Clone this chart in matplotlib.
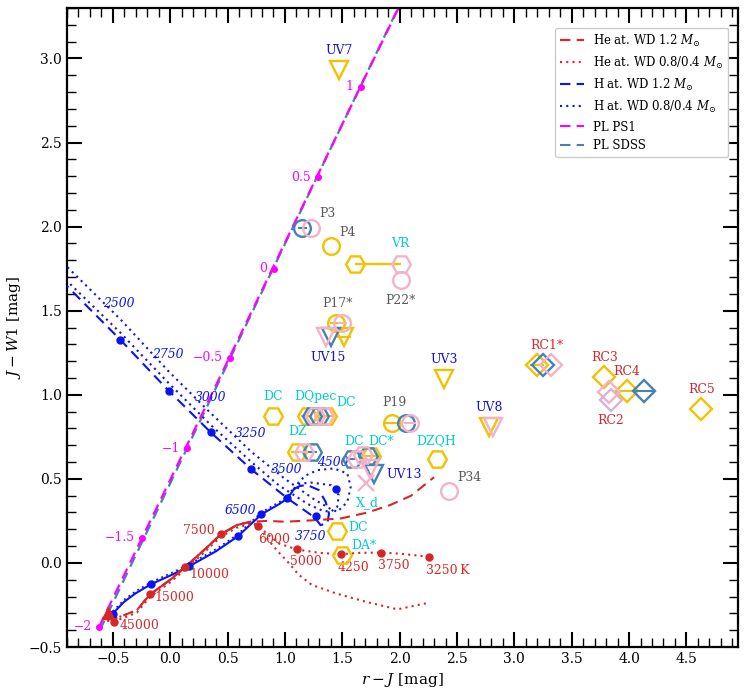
import matplotlib
matplotlib.use("Agg")
import matplotlib.pyplot as plt
from matplotlib.lines import Line2D
from matplotlib.ticker import MultipleLocator

plt.rcParams['font.family'] = ['DejaVu Serif']
plt.rcParams['mathtext.fontset'] = 'dejavuserif'

# ---------------- data ----------------
# power-law line PS1 (index, r-J, J-W1)
pl_index = [-2, -1.5, -1, -0.5, 0, 0.5, 1]
pl_x = [-0.62, -0.247, 0.145, 0.522, 0.905, 1.288, 1.66]
pl_y = [-0.379, 0.149, 0.681, 1.221, 1.750, 2.294, 2.833]
pl_line_x = [-0.62, 1.99]
pl_line_y = [-0.379, 3.30]
pl_sdss_x = [-0.60, 2.00]
pl_sdss_y = [-0.38, 3.32]

# H atmosphere tracks
h_hot_x = [-0.50, -0.40, -0.30, -0.169, 0.0, 0.165, 0.40, 0.589, 0.795, 0.95, 1.022, 1.08]
h_hot_y = [-0.30, -0.23, -0.18, -0.127, -0.075, -0.020, 0.07, 0.158, 0.289, 0.35, 0.384, 0.44]
h12_loop_x = [1.13, 1.195, 1.297, 1.355, 1.384, 1.37, 1.31, 1.26, 1.022, 0.708, 0.354, -0.015, -0.436, -0.92]
h12_loop_y = [0.458, 0.463, 0.433, 0.363, 0.294, 0.235, 0.225, 0.27, 0.384, 0.556, 0.776, 1.025, 1.328, 1.66]
h08_loop_x = [1.12, 1.225, 1.40, 1.47, 1.456, 1.40, 1.33, 1.2, 0.95, 0.708, 0.354, -0.015, -0.436, -0.92]
h08_loop_y = [0.47, 0.478, 0.463, 0.403, 0.334, 0.305, 0.31, 0.35, 0.46, 0.60, 0.82, 1.07, 1.37, 1.69]
h04_loop_x = [1.12, 1.18, 1.283, 1.427, 1.544, 1.573, 1.544, 1.457, 1.40, 1.25, 1.0, 0.708, 0.354, -0.015, -0.436, -0.92]
h04_loop_y = [0.48, 0.52, 0.552, 0.562, 0.532, 0.452, 0.363, 0.304, 0.32, 0.38, 0.50, 0.66, 0.89, 1.14, 1.45, 1.775]
h_dot_x = [-0.503, -0.169, 0.165, 0.589, 0.795, 1.022, 1.268, 1.449, 0.708, 0.354, -0.015, -0.436]
h_dot_y = [-0.304, -0.127, -0.020, 0.158, 0.289, 0.384, 0.278, 0.437, 0.556, 0.776, 1.025, 1.328]
h_lab_t = ['2500', '2750', '3000', '3250', '3500', '4500', '3750', '6500']
h_lab_x = [-0.448, -0.021, 0.354, 0.70, 1.016, 1.416, 1.225, 0.615]
h_lab_y = [1.544, 1.241, 0.985, 0.77, 0.558, 0.599, 0.16, 0.314]

# He atmosphere tracks
he_hot_x = [-0.55, -0.48, -0.40, -0.29, -0.23, -0.175, 0.0, 0.127, 0.30, 0.441, 0.58, 0.70]
he_hot_y = [-0.33, -0.33, -0.31, -0.28, -0.23, -0.187, -0.10, -0.026, 0.08, 0.17, 0.225, 0.245]
he12_x = [0.85, 1.0, 1.28, 1.49, 1.72, 1.92, 2.10, 2.30]
he12_y = [0.25, 0.245, 0.255, 0.265, 0.30, 0.345, 0.40, 0.51]
he08_x = [0.769, 0.85, 0.95, 1.107, 1.3, 1.49, 1.65, 1.834, 2.0, 2.256]
he08_y = [0.219, 0.17, 0.115, 0.08, 0.06, 0.052, 0.06, 0.062, 0.055, 0.037]
he04_x = [0.769, 0.85, 0.95, 1.024, 1.12, 1.233, 1.44, 1.7, 1.98, 2.23]
he04_y = [0.219, 0.14, 0.06, 0.007, -0.07, -0.13, -0.18, -0.23, -0.276, -0.24]
he_dot_x = [-0.49, -0.175, 0.127, 0.441, 0.769, 1.107, 1.49, 1.834, 2.256]
he_dot_y = [-0.35, -0.187, -0.026, 0.17, 0.219, 0.08, 0.052, 0.062, 0.037]
he_lab_t = ['45000', '15000', '10000', '7500', '6000', '5000', '4250', '3750', '3250\u2009K']
he_lab_x = [-0.27, 0.034, 0.34, 0.25, 0.905, 1.18, 1.60, 1.95, 2.415]
he_lab_y = [-0.37, -0.207, -0.07, 0.19, 0.14, 0.007, -0.026, -0.013, -0.042]
start_x = [-0.546]
start_y = [-0.30]

# observed objects, by photometry colour
gold_x = [1.469, 1.405, 1.443, 1.515, 2.386, 2.778, 3.199, 3.78, 3.98, 4.631,
          0.90, 1.19, 1.37, 1.107, 1.75, 2.322, 1.936, 1.457, 1.50]
gold_y = [2.934, 1.884, 1.429, 1.344, 1.096, 0.809, 1.176, 1.106, 1.021, 0.918,
          0.873, 0.873, 0.873, 0.66, 0.635, 0.617, 0.833, 0.191, 0.047]
gold_m = ['v', 'o', 'o', 'v', 'v', 'v', 'D', 'D', 'D', 'D',
          'H', 'H', 'H', 'H', 'H', 'H', 'o', 'H', 'H']
gold_xerr = [0, 0, 0.05, 0.06, 0, 0, 0.06, 0, 0.08, 0,
             0, 0.05, 0.05, 0.05, 0.06, 0, 0.07, 0, 0]
vr_gold = (1.608, 1.776, 0.40)

pink_x = [1.231, 2.009, 2.009, 1.50, 1.355, 2.816, 3.32, 3.823, 1.262, 1.34,
          1.165, 1.625, 1.68, 1.745, 2.43, 2.09]
pink_y = [1.991, 1.776, 1.681, 1.429, 1.344, 0.809, 1.176, 1.017, 0.873, 0.873,
          0.66, 0.617, 0.64, 0.56, 0.427, 0.833]
pink_m = ['o', 'H', 'o', 'o', 'v', 'v', 'D', 'D', 'H', 'H',
          'H', 'H', 'H', 'v', 'o', 'o']
pink_xerr = [0, 0, 0, 0.04, 0, 0, 0, 0, 0, 0,
             0.04, 0, 0, 0, 0, 0.05]
rc2b = (3.843, 0.968)
xd = (1.704, 0.473)

blue_x = [1.152, 1.399, 3.25, 4.134, 1.235, 1.30, 1.24, 1.585, 1.72, 1.775, 2.052]
blue_y = [1.991, 1.344, 1.176, 1.021, 0.873, 0.873, 0.66, 0.617, 0.635, 0.53, 0.833]
blue_m = ['o', 'v', 'D', 'D', 'H', 'H', 'H', 'H', 'H', 'v', 'o']
blue_xerr = [0.04, 0, 0, 0.08, 0, 0, 0.04, 0.03, 0, 0, 0]

lab_t = ['UV7', 'P3', 'P4', 'VR', 'P22*', 'P17*', 'UV15', 'UV3', 'UV8', 'RC1*',
         'RC3', 'RC2', 'RC4', 'RC5', 'DC', 'DQpec', 'DC', 'DZ', 'DC', 'DC*',
         'UV13', 'X_d', 'DZQH', 'P34', 'P19', 'DC', 'DA*']
lab_x = [1.469, 1.37, 1.544, 2.009, 2.009, 1.457, 1.38, 2.386, 2.778, 3.286,
         3.79, 3.84, 3.98, 4.631, 0.90, 1.268, 1.535, 1.11, 1.603, 1.835,
         2.037, 1.718, 2.322, 2.604, 1.95, 1.637, 1.689]
lab_y = [3.05, 2.077, 1.968, 1.899, 1.558, 1.542, 1.223, 1.21, 0.924, 1.294,
         1.22, 0.849, 1.136, 1.031, 0.991, 0.991, 0.952, 0.779, 0.724, 0.72,
         0.528, 0.36, 0.73, 0.508, 0.952, 0.211, 0.106]
lab_c = ['uv', 'p', 'p', 'd', 'p', 'p', 'uv', 'uv', 'uv', 'rc',
         'rc', 'rc', 'rc', 'rc', 'd', 'd', 'd', 'd', 'd', 'd',
         'uv', 'd', 'd', 'p', 'p', 'd', 'd']

# ---------------- styles ----------------
C_GOLD = '#f2c100'
C_PINK = '#f2b3c8'
C_BLUE = '#4682b4'
C_RED = '#d62728'
C_HB = '#0a14f0'
C_MAG = '#ff00ff'
lab_colors = {'uv': '#1010e0', 'p': '#5a5a5a', 'd': '#00cccc', 'rc': '#d62728'}
msize = {'o': 12, 'H': 13.5, 'v': 12.5, 'D': 11}
FS = 8.6

fig = plt.figure(figsize=(7.47, 6.97), dpi=100)
ax = fig.add_axes([0.0897, 0.0717, 0.8983, 0.9168])

# PL lines
ax.plot(pl_sdss_x, pl_sdss_y, color=C_BLUE, ls=(2, (5, 3)), lw=1.6, zorder=2)
ax.plot(pl_line_x, pl_line_y, color=C_MAG, ls=(0, (5, 3)), lw=1.6, zorder=2.1)
ax.plot(pl_x, pl_y, 'o', color=C_MAG, ms=4, zorder=2.2)
for t, x, y in zip(pl_index, pl_x, pl_y):
    s = ('%g' % t).replace('-', '\u2212')
    ax.annotate(s, (x, y), xytext=(-5, 0), textcoords='offset points',
                ha='right', va='center', color=C_MAG, fontsize=FS + 0.3)

# H tracks
ax.plot(h_hot_x, h_hot_y, color=C_HB, lw=1.5, ls='-', zorder=3)
ax.plot(h_hot_x[-1:] + h12_loop_x, h_hot_y[-1:] + h12_loop_y, color=C_HB, lw=1.5, ls=(0, (5, 3)), zorder=3)
ax.plot(h_hot_x[-1:] + h08_loop_x, h_hot_y[-1:] + h08_loop_y, color=C_HB, lw=1.5, ls=(0, (1, 2)), zorder=3)
ax.plot(h_hot_x[-1:] + h04_loop_x, h_hot_y[-1:] + h04_loop_y, color=C_HB, lw=1.5, ls=(0, (1, 2)), zorder=3)
ax.plot(h_hot_x, [y + 0.012 for y in h_hot_y], color=C_HB, lw=1.3, ls=(0, (1, 2)), zorder=3)
ax.plot(h_dot_x, h_dot_y, 'o', color=C_HB, ms=5, zorder=3.2)
for t, x, y in zip(h_lab_t, h_lab_x, h_lab_y):
    ax.text(x, y, t, color=C_HB, fontsize=FS + 0.3, style='italic', ha='center', va='center', zorder=4)

# He tracks
ax.plot(he_hot_x[4:], he_hot_y[4:], color=C_RED, lw=1.5, ls='-', zorder=3)
ax.plot(he_hot_x + he12_x, he_hot_y + he12_y, color=C_RED, lw=1.5, ls=(0, (5, 3)), zorder=3)
ax.plot(he_hot_x + he08_x, he_hot_y + he08_y, color=C_RED, lw=1.5, ls=(0, (1, 2)), zorder=3)
ax.plot(he_hot_x + he04_x, [y - 0.015 for y in he_hot_y] + he04_y, color=C_RED, lw=1.5, ls=(0, (1, 2)), zorder=3)
ax.plot(he_dot_x, he_dot_y, 'o', color=C_RED, ms=5, zorder=3.2)
ax.plot(start_x, start_y, '^', color=C_RED, ms=9, zorder=3.3)
for t, x, y in zip(he_lab_t, he_lab_x, he_lab_y):
    ax.text(x, y, t, color=C_RED, fontsize=FS + 0.3, ha='center', va='center', zorder=4)


def draw(xs, ys, ms_, errs, col, z):
    for x, y, m, e in zip(xs, ys, ms_, errs):
        if e:
            ax.errorbar([x], [y], xerr=[e], fmt='none', ecolor=col, elinewidth=1.5, capsize=0, zorder=z)
        ax.plot([x], [y], m, ms=msize[m], mfc='none', mec=col, mew=1.7, zorder=z)


ax.errorbar([vr_gold[0]], [vr_gold[1]], xerr=[[0], [vr_gold[2]]], fmt='none',
            ecolor=C_GOLD, elinewidth=1.7, capsize=0, zorder=5)
ax.plot([vr_gold[0]], [vr_gold[1]], 'H', ms=msize['H'], mfc='none', mec=C_GOLD, mew=1.7, zorder=5)
draw(gold_x, gold_y, gold_m, gold_xerr, C_GOLD, 5)
draw(blue_x, blue_y, blue_m, blue_xerr, C_BLUE, 5.5)
draw(pink_x, pink_y, pink_m, pink_xerr, C_PINK, 6)
ax.plot([rc2b[0]], [rc2b[1]], 'D', ms=msize['D'], mfc='none', mec='#dcb0d4', mew=1.7, zorder=6)
ax.plot([xd[0]], [xd[1]], 'x', ms=12, mec=C_PINK, mew=1.7, zorder=6)

for t, x, y, c in zip(lab_t, lab_x, lab_y, lab_c):
    ax.text(x, y, t, color=lab_colors[c], fontsize=FS + 0.3, ha='center', va='center', zorder=7)

# axes
ax.set_xlim(-0.9, 4.95)
ax.set_ylim(-0.5, 3.3)
ax.set_xticks([-0.5, 0.0, 0.5, 1.0, 1.5, 2.0, 2.5, 3.0, 3.5, 4.0, 4.5])
ax.set_yticks([-0.5, 0.0, 0.5, 1.0, 1.5, 2.0, 2.5, 3.0])
ax.set_xticklabels(['\u22120.5', '0.0', '0.5', '1.0', '1.5', '2.0', '2.5', '3.0', '3.5', '4.0', '4.5'])
ax.set_yticklabels(['\u22120.5', '0.0', '0.5', '1.0', '1.5', '2.0', '2.5', '3.0'])
ax.xaxis.set_minor_locator(MultipleLocator(0.1))
ax.yaxis.set_minor_locator(MultipleLocator(0.1))
ax.tick_params(which='both', direction='in', top=True, right=True, labelsize=10)
ax.tick_params(which='major', length=11, width=1.5)
ax.tick_params(which='minor', length=6.5, width=1.0)
for sp in ax.spines.values():
    sp.set_linewidth(1.6)
ax.set_xlabel('$r-J$ [mag]', fontsize=11)
ax.set_ylabel('$J-W1$ [mag]', fontsize=11)

handles = [
    Line2D([], [], color='#ff1a1a', ls=(0, (5, 3)), lw=1.5),
    Line2D([], [], color='#ff1a1a', ls=(0, (1, 2)), lw=1.5),
    Line2D([], [], color=C_HB, ls=(0, (5, 3)), lw=1.5),
    Line2D([], [], color=C_HB, ls=(0, (1, 2)), lw=1.5),
    Line2D([], [], color=C_MAG, ls=(0, (5, 3)), lw=1.5),
    Line2D([], [], color=C_BLUE, ls=(0, (5, 3)), lw=1.5),
]
labels = [r'He at. WD 1.2 $M_{\odot}$', r'He at. WD 0.8/0.4 $M_{\odot}$',
          r'H at. WD 1.2 $M_{\odot}$', r'H at. WD 0.8/0.4 $M_{\odot}$',
          'PL PS1', 'PL SDSS']
ax.legend(handles, labels, loc='upper right', bbox_to_anchor=(0.985, 0.969),
          borderaxespad=0, fontsize=8.5, handlelength=2.0, framealpha=1,
          edgecolor='#cccccc')

fig.savefig('out.png', dpi=100)
